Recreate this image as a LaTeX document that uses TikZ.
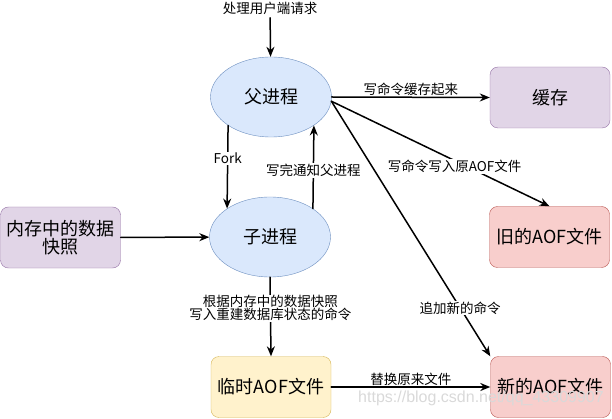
\documentclass[tikz,border=0pt]{standalone}
\usepackage{fontspec}
\setmainfont{Noto Sans CJK SC}
\newfontfamily\wmfont{Liberation Sans}
\usetikzlibrary{shapes.geometric,arrows.meta}

\definecolor{procfill}{HTML}{DAE8FC}
\definecolor{procline}{HTML}{6C8EBF}
\definecolor{memfill}{HTML}{E1D5E7}
\definecolor{memline}{HTML}{9673A6}
\definecolor{aoffill}{HTML}{F8CECC}
\definecolor{aofline}{HTML}{B85450}
\definecolor{tmpfill}{HTML}{FFF2CC}
\definecolor{tmpline}{HTML}{D6B656}

\begin{document}
\begin{tikzpicture}[x=1pt,y=-1pt,>={Stealth[length=10pt,width=8pt]},line cap=round,line join=round,
  proc/.style={ellipse,draw=procline,fill=procfill,minimum width=121pt,minimum height=80pt,inner sep=0pt,font=\fontsize{18}{21}\selectfont},
  filebox/.style={rectangle,rounded corners=8pt,minimum width=120pt,minimum height=61pt,inner sep=0pt,align=center,font=\fontsize{18}{21}\selectfont},
  conn/.style={->,line width=1.5pt},
  lbl/.style={fill=white,inner sep=1pt,align=center,font=\fontsize{13.5}{15.5}\selectfont}]
\useasboundingbox (0,0) rectangle (612,419);

% processes
\node[proc] (parent) at (271,97) {父进程};
\node[proc] (child) at (270,237) {子进程};
\node[font=\fontsize{13.5}{15.5}\selectfont] (req) at (270,8) {处理用户端请求};

% boxes
\node[filebox,draw=memline,fill=memfill] (snapshot) at (60.5,237.5) {内存中的数据\\[-3pt]快照};
\node[filebox,draw=memline,fill=memfill] (cache) at (550,97.5) {缓存};
\node[filebox,draw=aofline,fill=aoffill] (oldaof) at (549.5,237) {旧的AOF文件};
\node[filebox,draw=tmpline,fill=tmpfill] (tmpaof) at (271,387) {临时AOF文件};
\node[filebox,draw=aofline,fill=aoffill] (newaof) at (550.5,387) {新的AOF文件};

% connectors
\draw[conn] (req) -- (parent);
\draw[conn] (parent.east) -- (cache.west) node[midway,above,lbl,fill=none]{写命令缓存起来};
\draw[conn] (parent.-4) -- (oldaof.north) node[pos=.565,yshift=-6pt,lbl]{写命令写入原AOF文件};
\draw[conn] (parent.-4) -- (newaof.north west) node[pos=.81,lbl]{追加新的命令};
\draw[conn] (parent.south west) -- (child.north west) node[pos=.4,lbl]{Fork};
\draw[conn] (child.north east) -- (parent.south east) node[pos=.46,lbl]{写完通知父进程};
\draw[conn] (snapshot) -- (child);
\draw[conn] (child.south) -- (tmpaof.north) node[pos=.39,lbl]{根据内存中的数据快照\\[-3pt]写入重建数据库状态的命令};
\draw[conn] (tmpaof) -- (newaof) node[midway,above,lbl,fill=none]{替换原来文件};

% watermark
\node[text=gray!30,font=\wmfont\fontsize{16}{18}\selectfont] (mark) at (481,398) {https://blog.csdn.net/qq\_43309907};
\end{tikzpicture}
\end{document}
